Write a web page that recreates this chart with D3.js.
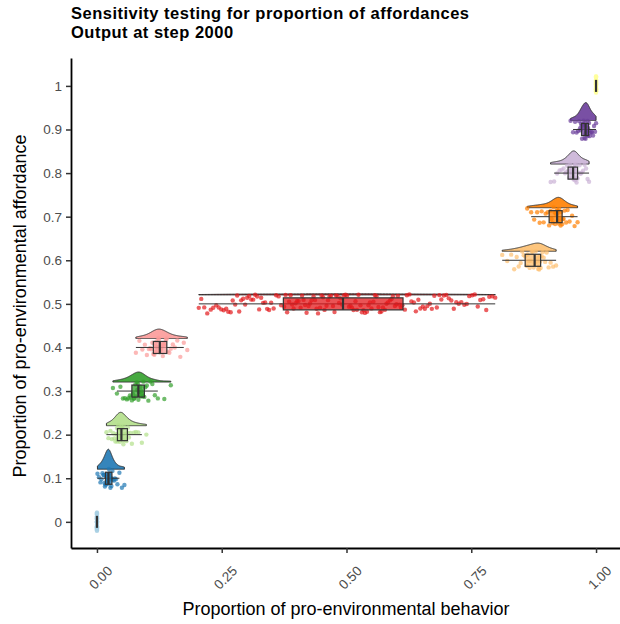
<!DOCTYPE html>
<html>
<head>
<meta charset="utf-8">
<script src="https://cdn.jsdelivr.net/npm/d3@7"></script>
<style>
  body { margin: 0; background: #fff; }
  svg { display: block; font-family: "Liberation Sans", Arial, sans-serif; }
</style>
</head>
<body>
<div id="canvas"></div>
<script>
// proportion of pro-environmental affordance (one raincloud per value)
const affordance = [0, 0.1, 0.2, 0.3, 0.4, 0.5, 0.6, 0.7, 0.8, 0.9, 1.0];
const colors = ["#a6cee3", "#1f78b4", "#b2df8a", "#33a02c", "#fb9a99", "#e31a1c",
                "#fdbf6f", "#ff7f00", "#cab2d6", "#6a3d9a", "#ffff99"];

// proportion of pro-environmental behavior at step 2000, per affordance level
const b00 = [0,0,0,0,0,0,0,0,0,0,0,0,0,0,0,0,0,0,0,0,0,0,0,0,0,0,0,0,0,0];
const b01 = [0.001,0.004,0.007,0.009,0.011,0.013,0.014,0.015,0.016,0.017,0.018,0.019,0.020,0.020,0.021,0.022,0.022,0.023,0.023,0.024,0.024,0.025,0.025,0.026,0.027,0.028,0.029,0.030,0.031,0.032,0.034,0.036,0.038,0.041,0.045,0.050,0.055];
const b02 = [0.019,0.023,0.027,0.030,0.033,0.035,0.037,0.039,0.040,0.041,0.042,0.043,0.044,0.045,0.046,0.047,0.048,0.049,0.049,0.050,0.051,0.052,0.053,0.054,0.055,0.057,0.059,0.061,0.062,0.064,0.067,0.070,0.074,0.078,0.083,0.090,0.099];
const b03 = [0.032,0.040,0.047,0.052,0.056,0.060,0.063,0.066,0.068,0.070,0.072,0.074,0.075,0.077,0.078,0.080,0.081,0.082,0.083,0.084,0.085,0.087,0.088,0.089,0.090,0.092,0.093,0.095,0.097,0.100,0.103,0.107,0.111,0.116,0.122,0.135,0.148];
const b04 = [0.078,0.085,0.091,0.096,0.100,0.104,0.107,0.109,0.111,0.113,0.115,0.117,0.118,0.119,0.120,0.122,0.123,0.124,0.126,0.127,0.128,0.130,0.131,0.132,0.134,0.136,0.138,0.140,0.142,0.145,0.148,0.152,0.156,0.161,0.167,0.174,0.181];
const b05 = [0.204,0.209,0.215,0.221,0.228,0.233,0.239,0.244,0.249,0.254,0.259,0.263,0.268,0.272,0.277,0.281,0.285,0.289,0.293,0.297,0.301,0.305,0.309,0.313,0.317,0.321,0.325,0.329,0.333,0.337,0.341,0.345,0.349,0.354,0.359,0.364,0.369,
             0.375,0.378,0.381,0.385,0.388,0.391,0.394,0.398,0.401,0.404,0.408,0.411,0.414,0.417,0.420,0.424,0.427,0.430,0.434,0.437,0.440,0.443,0.447,0.450,0.453,0.456,0.460,0.463,0.466,0.469,0.473,0.476,0.479,0.482,0.485,0.488,0.491,
             0.495,0.498,0.501,0.505,0.508,0.511,0.514,0.518,0.521,0.524,0.528,0.531,0.534,0.537,0.541,0.544,0.547,0.550,0.554,0.557,0.560,0.564,0.567,0.570,0.573,0.577,0.580,0.583,0.587,0.590,0.593,0.597,0.600,0.603,0.606,0.609,0.612,
             0.617,0.621,0.626,0.630,0.635,0.639,0.644,0.648,0.653,0.657,0.662,0.667,0.671,0.676,0.681,0.686,0.690,0.695,0.700,0.705,0.710,0.715,0.720,0.725,0.730,0.736,0.741,0.746,0.752,0.757,0.763,0.768,0.774,0.780,0.786,0.792,0.798];
const b06 = [0.812,0.822,0.830,0.836,0.841,0.845,0.849,0.852,0.855,0.858,0.861,0.863,0.865,0.867,0.869,0.871,0.873,0.875,0.877,0.879,0.881,0.883,0.884,0.885,0.886,0.887,0.888,0.889,0.891,0.893,0.895,0.898,0.901,0.905,0.909,0.914,0.920];
const b07 = [0.862,0.870,0.876,0.882,0.887,0.891,0.895,0.899,0.903,0.906,0.909,0.911,0.913,0.915,0.917,0.918,0.920,0.921,0.922,0.923,0.924,0.925,0.926,0.927,0.928,0.929,0.930,0.932,0.933,0.935,0.937,0.940,0.943,0.947,0.952,0.957,0.963];
const b08 = [0.909,0.916,0.922,0.927,0.931,0.935,0.938,0.940,0.942,0.944,0.946,0.947,0.948,0.950,0.951,0.952,0.953,0.954,0.954,0.955,0.956,0.957,0.958,0.959,0.960,0.961,0.962,0.963,0.965,0.967,0.969,0.971,0.974,0.977,0.980,0.983,0.986];
const b09 = [0.949,0.954,0.958,0.961,0.964,0.966,0.968,0.969,0.970,0.971,0.972,0.973,0.974,0.975,0.976,0.977,0.977,0.978,0.979,0.979,0.980,0.981,0.981,0.982,0.983,0.984,0.984,0.985,0.986,0.987,0.989,0.990,0.992,0.994,0.996,0.998,1.000];
const b10 = [1,1,1,1,1,1,1,1,1,1,1,1,1,1,1,1,1,1,1,1,1,1,1,1,1,1,1,1,1,1];
const behavior = [b00, b01, b02, b03, b04, b05, b06, b07, b08, b09, b10];

const xTicks = [0, 0.25, 0.5, 0.75, 1];
const xTickLabels = ["0.00", "0.25", "0.50", "0.75", "1.00"];
const yTicks = [0, 0.1, 0.2, 0.3, 0.4, 0.5, 0.6, 0.7, 0.8, 0.9, 1];
const yTickLabels = ["0", "0.1", "0.2", "0.3", "0.4", "0.5", "0.6", "0.7", "0.8", "0.9", "1"];

const width = 620;
const height = 624;
const margin = { top: 58, left: 71, bottom: 76, right: 0 };

const svg = d3.select("#canvas").append("svg")
    .attr("width", width).attr("height", height)
    .attr("viewBox", [0, 0, width, height]);

const x = d3.scaleLinear().domain([-0.052, 1.048]).range([margin.left, width - margin.right]);
const y = d3.scaleLinear().domain([-0.06, 1.064]).range([height - margin.bottom, margin.top]);

// gaussian kde with R's bw.nrd0, trimmed to the data range
function kde(values) {
    const n = values.length;
    const sd = d3.deviation(values);
    const iqr = d3.quantile(values, 0.75) - d3.quantile(values, 0.25);
    let s = Math.min(sd, iqr / 1.34);
    if (!(s > 0)) s = sd;
    const bw = 0.9 * s * Math.pow(n, -0.2);
    const [lo, hi] = d3.extent(values);
    return d3.range(0, 201).map(i => {
        const v = lo + (hi - lo) * i / 200;
        const d = d3.mean(values, u => Math.exp(-0.5 * ((v - u) / bw) ** 2)) / (bw * Math.sqrt(2 * Math.PI));
        return [v, d];
    });
}

const groups = affordance.map((a, i) => {
    const vals = behavior[i].slice().sort(d3.ascending);
    const q1 = d3.quantile(vals, 0.25), med = d3.quantile(vals, 0.5), q3 = d3.quantile(vals, 0.75);
    const iqr = q3 - q1;
    const lo = d3.min(vals.filter(v => v >= q1 - 1.5 * iqr));
    const hi = d3.max(vals.filter(v => v <= q3 + 1.5 * iqr));
    const dens = d3.deviation(vals) > 0 ? kde(vals) : null;
    return { a, vals, color: colors[i], q1, med, q3, lo, hi, dens };
});

const maxDens = d3.max(groups, g => g.dens ? d3.max(g.dens, d => d[1]) : 0);
const h = d3.scaleLinear().domain([0, maxDens]).range([0, 20]);

const violinOffset = 0.0206;
const boxHalf = 0.0138;
const jitterAmt = 0.022;

const plot = svg.append("g");

// clouds
groups.forEach(g => {
    if (!g.dens) return;
    const base = y(g.a + violinOffset);
    const area = d3.area()
        .x(d => x(d[0]))
        .y0(base)
        .y1(d => base - h(d[1]));
    plot.append("path")
        .datum(g.dens)
        .attr("d", d => area(d) + "Z")
        .attr("fill", g.color)
        .attr("fill-opacity", 0.9)
        .attr("stroke", "#333")
        .attr("stroke-width", 1);
});

// rain (jittered points)
const rnd = d3.randomUniform.source(d3.randomLcg(0.42))(-jitterAmt, jitterAmt);
groups.forEach(g => {
    plot.append("g").selectAll("circle")
        .data(g.vals)
        .join("circle")
        .attr("cx", d => x(d))
        .attr("cy", () => y(g.a + rnd()))
        .attr("r", 2.2)
        .attr("fill", g.color)
        .attr("fill-opacity", 0.7);
});

// boxplots
groups.forEach(g => {
    const bg = plot.append("g").attr("stroke", "#333");
    bg.append("line")
        .attr("x1", x(g.lo)).attr("x2", x(g.hi))
        .attr("y1", y(g.a)).attr("y2", y(g.a))
        .attr("stroke-width", 1);
    bg.append("rect")
        .attr("x", x(g.q1)).attr("width", x(g.q3) - x(g.q1))
        .attr("y", y(g.a + boxHalf)).attr("height", y(g.a - boxHalf) - y(g.a + boxHalf))
        .attr("fill", g.color).attr("fill-opacity", 0.75)
        .attr("stroke-width", 1.2);
    bg.append("line")
        .attr("x1", x(g.med)).attr("x2", x(g.med))
        .attr("y1", y(g.a + boxHalf)).attr("y2", y(g.a - boxHalf))
        .attr("stroke-width", 2.2);
});

// axes
const xAxis = svg.append("g")
    .attr("transform", `translate(0,${height - margin.bottom})`)
    .call(d3.axisBottom(x).tickValues(xTicks).tickFormat((d, i) => xTickLabels[i]).tickSize(5).tickSizeOuter(0));
xAxis.select(".domain").attr("stroke", "#000").attr("stroke-width", 1.8);
xAxis.selectAll(".tick line").attr("stroke", "#333").attr("stroke-width", 1.5);
xAxis.selectAll(".tick text")
    .attr("fill", "#4d4d4d").attr("font-size", 13.5)
    .attr("text-anchor", "end")
    .attr("transform", "translate(9,17) rotate(-45)")
    .attr("y", 0).attr("dy", "0.71em");

const yAxis = svg.append("g")
    .attr("transform", `translate(${margin.left},0)`)
    .call(d3.axisLeft(y).tickValues(yTicks).tickFormat((d, i) => yTickLabels[i]).tickSize(5).tickSizeOuter(0));
yAxis.select(".domain").attr("stroke", "#000").attr("stroke-width", 1.8);
yAxis.selectAll(".tick line").attr("stroke", "#333").attr("stroke-width", 1.5);
yAxis.selectAll(".tick text").attr("fill", "#4d4d4d").attr("font-size", 13.5).attr("x", -9);

// titles
svg.append("text").attr("x", 71).attr("y", 18.5)
    .attr("font-size", 16.5).attr("font-weight", "bold").attr("fill", "#000")
    .attr("letter-spacing", 0.5)
    .text("Sensitivity testing for proportion of affordances");
svg.append("text").attr("x", 71).attr("y", 38)
    .attr("font-size", 16.5).attr("font-weight", "bold").attr("fill", "#000")
    .attr("letter-spacing", 0.5)
    .text("Output at step 2000");

svg.append("text")
    .attr("x", 346).attr("y", 615)
    .attr("text-anchor", "middle").attr("font-size", 18).attr("fill", "#000")
    .text("Proportion of pro-environmental behavior");

svg.append("text")
    .attr("transform", "translate(26,306) rotate(-90)")
    .attr("text-anchor", "middle").attr("font-size", 18).attr("fill", "#000")
    .text("Proportion of pro-environmental affordance");
</script>
</body>
</html>
